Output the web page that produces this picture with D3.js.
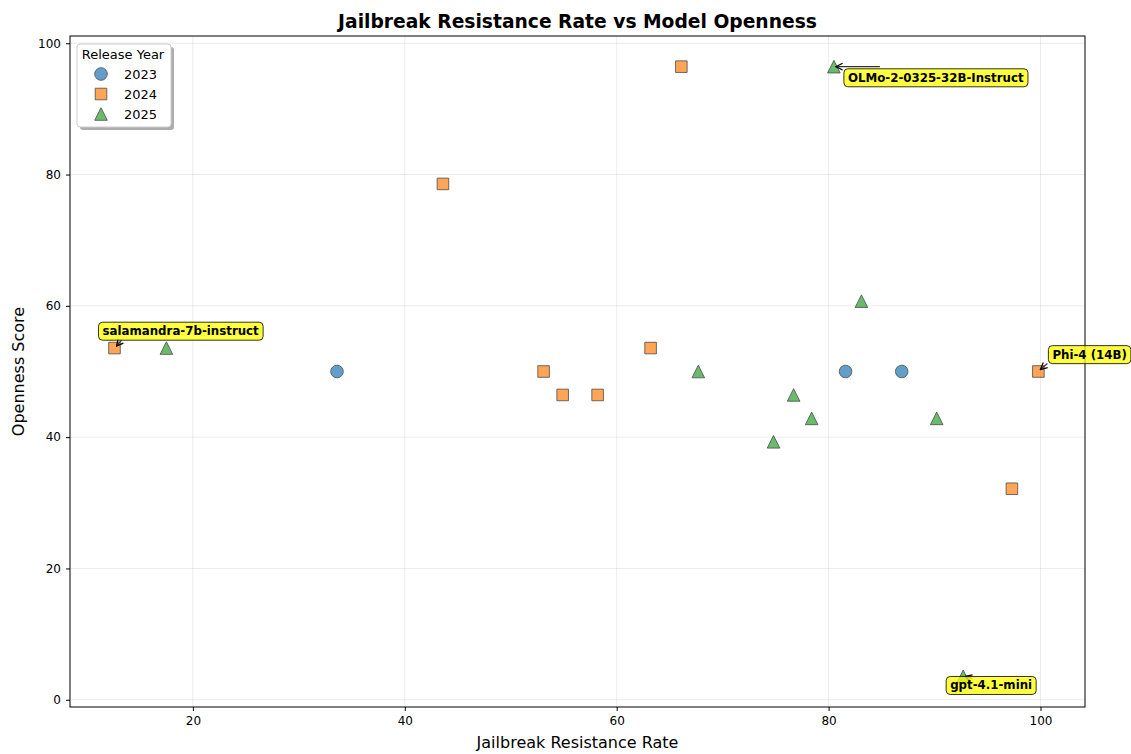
<!DOCTYPE html>
<html>
<head>
<meta charset="utf-8">
<script src="https://cdn.jsdelivr.net/npm/d3@7"></script>
<style>
  body { margin: 0; background: #fff; }
  svg { font-family: "DejaVu Sans", sans-serif; }
</style>
</head>
<body>
<svg id="chart" width="1131" height="754"></svg>
<script>
// --- Data ---

const years = [2023, 2024, 2025];
const resistance2023 = [33.6, 81.6, 86.9];
const openness2023 = [50, 50, 50];
const resistance2024 = [12.6, 43.6, 66.1, 53.1, 54.9, 58.2, 63.2, 97.3, 99.8];
const openness2024 = [53.57, 78.57, 96.43, 50, 46.43, 46.43, 53.57, 32.14, 50];
const resistance2025 = [17.5, 80.5, 83.1, 67.7, 76.7, 78.4, 74.8, 90.2, 92.7];
const openness2025 = [53.57, 96.43, 60.71, 50, 46.43, 42.86, 39.29, 42.86, 3.57];
const xTicks = [20, 40, 60, 80, 100];
const yTicks = [0, 20, 40, 60, 80, 100];

// labelled models: year + index into that year's arrays
const labelNames = ['OLMo-2-0325-32B-Instruct', 'salamandra-7b-instruct', 'Phi-4 (14B)', 'gpt-4.1-mini'];
const labelYears = [2025, 2024, 2024, 2025];
const labelIndex = [1, 0, 8, 8];

const seriesX = { 2023: resistance2023, 2024: resistance2024, 2025: resistance2025 };
const seriesY = { 2023: openness2023, 2024: openness2024, 2025: openness2025 };

// --- Styling ---

const colors = { 2023: '#1f77b4', 2024: '#ff7f0e', 2025: '#2ca02c' };
const shapes = { 2023: 'circle', 2024: 'square', 2025: 'triangle' };
// label placement relative to point: text left dx, text middle dy, arrow start
const labelStyle = [
  { dx: 14, dy: 11, ax: 46, ay: 0 },
  { dx: -12, dy: -17, ax: 7, ay: -8 },
  { dx: 14, dy: -17, ax: 9, ay: -8 },
  { dx: -13, dy: 9, ax: 9, ay: 2 }
];

const L = 70, R = 1085, T = 36, B = 707;
const svg = d3.select('#chart');

const x = d3.scaleLinear().domain([8.4, 104.2]).range([L, R]);
const y = d3.scaleLinear().domain([-1.1, 101.1]).range([B, T]);

function markerPath(shape) {
  const s = 6.3;
  if (shape === 'circle') return d3.symbol(d3.symbolCircle, Math.PI * s * s)();
  if (shape === 'square') return d3.symbol(d3.symbolSquare, (s * 1.84) ** 2)();
  return `M0,${-s}L${s},${s}L${-s},${s}Z`;
}

// --- Grid ---

const grid = svg.append('g');
grid.selectAll('.gx').data(xTicks).join('line')
  .attr('x1', d => x(d)).attr('x2', d => x(d)).attr('y1', T).attr('y2', B)
  .attr('stroke', '#b0b0b0').attr('stroke-opacity', 0.3).attr('stroke-width', 0.8);
grid.selectAll('.gy').data(yTicks).join('line')
  .attr('y1', d => y(d)).attr('y2', d => y(d)).attr('x1', L).attr('x2', R)
  .attr('stroke', '#b0b0b0').attr('stroke-opacity', 0.3).attr('stroke-width', 0.8);

// --- Axes ---

const xAxis = svg.append('g').attr('transform', `translate(0,${B})`)
  .call(d3.axisBottom(x).tickValues(xTicks).tickSize(4).tickPadding(5));
const yAxis = svg.append('g').attr('transform', `translate(${L},0)`)
  .call(d3.axisLeft(y).tickValues(yTicks).tickSize(4).tickPadding(5));
[xAxis, yAxis].forEach(a => {
  a.select('.domain').remove();
  a.selectAll('text').attr('font-size', 12).attr('font-family', '"DejaVu Sans"').attr('fill', '#000');
  a.selectAll('line').attr('stroke', '#000');
});

svg.append('rect').attr('x', L).attr('y', T).attr('width', R - L).attr('height', B - T)
  .attr('fill', 'none').attr('stroke', '#000').attr('stroke-width', 1);

// --- Points ---

for (const yr of years) {
  const pts = seriesX[yr].map((v, i) => [v, seriesY[yr][i]]);
  svg.append('g').selectAll('path').data(pts).join('path')
    .attr('d', markerPath(shapes[yr]))
    .attr('transform', d => `translate(${x(d[0])},${y(d[1])})`)
    .attr('fill', colors[yr]).attr('stroke', '#000').attr('stroke-width', 0.8)
    .attr('opacity', 0.7);
}

// --- Annotations ---

svg.append('defs').append('marker')
  .attr('id', 'arr').attr('viewBox', '0 0 10 10').attr('refX', 9).attr('refY', 5)
  .attr('markerWidth', 7).attr('markerHeight', 7).attr('orient', 'auto')
  .append('path').attr('d', 'M1,1L9,5L1,9').attr('fill', 'none').attr('stroke', '#000').attr('stroke-width', 1.5);

labelNames.forEach((name, k) => {
  const yr = labelYears[k], i = labelIndex[k], st = labelStyle[k];
  const px = x(seriesX[yr][i]), py = y(seriesY[yr][i]);
  const g = svg.append('g');
  g.append('line')
    .attr('x1', px + st.ax).attr('y1', py + st.ay).attr('x2', px + 2).attr('y2', py + (st.ay < 0 ? -2 : 0))
    .attr('stroke', '#333').attr('stroke-width', 1.2).attr('marker-end', 'url(#arr)');
  const txt = g.append('text').text(name)
    .attr('x', px + st.dx).attr('y', py + st.dy).attr('dy', '0.35em')
    .attr('font-size', 11.8).attr('font-weight', 'bold').attr('fill', '#000');
  const bb = txt.node().getBBox();
  g.insert('rect', 'text')
    .attr('x', bb.x - 4).attr('y', bb.y - 2).attr('width', bb.width + 8).attr('height', bb.height + 4)
    .attr('rx', 4).attr('fill', '#ffff00').attr('fill-opacity', 0.75)
    .attr('stroke', '#000').attr('stroke-opacity', 0.8).attr('stroke-width', 1);
});

// --- Legend ---

const lg = svg.append('g').attr('transform', 'translate(77,44)');
lg.append('rect').attr('x', 3).attr('y', 3).attr('width', 94).attr('height', 83).attr('rx', 3)
  .attr('fill', '#999').attr('opacity', 0.8);
lg.append('rect').attr('width', 94).attr('height', 83).attr('rx', 3)
  .attr('fill', '#fff').attr('stroke', '#ccc').attr('stroke-width', 1);
lg.append('text').text('Release Year').attr('x', 46).attr('y', 15).attr('text-anchor', 'middle')
  .attr('font-size', 13);
years.forEach((yr, j) => {
  const cy = 30 + j * 20;
  lg.append('path').attr('d', markerPath(shapes[yr])).attr('transform', `translate(24,${cy})`)
    .attr('fill', colors[yr]).attr('stroke', '#000').attr('stroke-width', 0.8).attr('opacity', 0.7);
  lg.append('text').text(yr).attr('x', 47).attr('y', cy).attr('dy', '0.35em').attr('font-size', 13);
});

// --- Titles ---

svg.append('text').text('Jailbreak Resistance Rate vs Model Openness')
  .attr('x', (L + R) / 2).attr('y', 28).attr('text-anchor', 'middle')
  .attr('font-size', 18.7).attr('font-weight', 'bold');
svg.append('text').text('Jailbreak Resistance Rate')
  .attr('x', (L + R) / 2).attr('y', 748).attr('text-anchor', 'middle').attr('font-size', 16);
svg.append('text').text('Openness Score')
  .attr('transform', `translate(24,${(T + B) / 2}) rotate(-90)`).attr('text-anchor', 'middle')
  .attr('font-size', 16);
</script>
</body>
</html>
